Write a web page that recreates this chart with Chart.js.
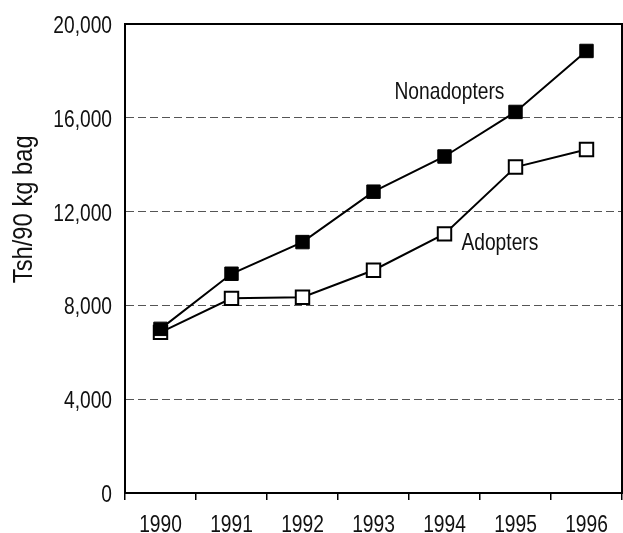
<!DOCTYPE html>
<html>
<head>
<meta charset="utf-8">
<script src="https://cdn.jsdelivr.net/npm/chart.js@4"></script>
<style>
  html, body { margin: 0; padding: 0; background: #fff; }
  #wrap { width: 623px; height: 533px; }
</style>
</head>
<body>
<div id="wrap"><canvas id="chart"></canvas></div>
<script>
const years = ['1990', '1991', '1992', '1993', '1994', '1995', '1996'];
const nonadopters = [7000, 9350, 10700, 12850, 14350, 16250, 18850];
const adopters = [6850, 8300, 8350, 9500, 11050, 13900, 14650];
const yTicks = [0, 4000, 8000, 12000, 16000, 20000];

const FONT = "'Liberation Sans', Arial, sans-serif";
// no narrow face installed, so text is squeezed horizontally to look condensed
const SQUEEZE = 0.8;

// series names written next to the lines, placed in data units
const seriesLabels = [
  { text: 'Nonadopters', x: 4.07, y: 17100 },
  { text: 'Adopters', x: 4.78, y: 10650 },
];

function narrowText(ctx, text, x, y, align, sx) {
  ctx.save();
  ctx.translate(x, y);
  ctx.scale(sx, 1);
  ctx.textAlign = align;
  ctx.fillText(text, 0, 0);
  ctx.restore();
}

const framePlugin = {
  id: 'frame',
  afterDraw(chart) {
    const ctx = chart.ctx;
    const a = chart.chartArea;
    const xs = chart.scales.x;
    const ys = chart.scales.y;
    ctx.save();
    ctx.strokeStyle = '#000';
    ctx.lineWidth = 2;
    ctx.strokeRect(a.left, a.top, a.right - a.left, a.bottom - a.top);

    ctx.fillStyle = '#111';
    ctx.font = '24px ' + FONT;
    ctx.textBaseline = 'alphabetic';

    // y tick labels
    ys.ticks.forEach((t) => {
      const py = ys.getPixelForValue(t.value);
      narrowText(ctx, t.value.toLocaleString('en-US'), a.left - 13, py + 9, 'right', SQUEEZE);
    });

    // x tick labels
    years.forEach((yr, i) => {
      narrowText(ctx, yr, xs.getPixelForValue(i), a.bottom + 39, 'center', SQUEEZE);
    });

    // series names
    ctx.textBaseline = 'middle';
    seriesLabels.forEach((l) => {
      narrowText(ctx, l.text, xs.getPixelForValue(l.x), ys.getPixelForValue(l.y), 'center', SQUEEZE);
    });

    // axis title
    ctx.translate(25, ys.getPixelForValue(12100));
    ctx.rotate(-Math.PI / 2);
    ctx.font = '27px ' + FONT;
    narrowText(ctx, 'Tsh/90 kg bag', 0, 0, 'center', 0.88);
    ctx.restore();
  },
};

new Chart(document.getElementById('chart'), {
  type: 'line',
  data: {
    labels: years,
    datasets: [
      {
        label: 'Nonadopters',
        data: nonadopters,
        borderColor: '#000',
        borderWidth: 2,
        backgroundColor: '#000',
        pointStyle: 'rect',
        pointRadius: 9.5,
        pointBorderColor: '#000',
        pointBackgroundColor: '#000',
        pointBorderWidth: 1,
        tension: 0,
      },
      {
        label: 'Adopters',
        data: adopters,
        borderColor: '#000',
        borderWidth: 2,
        backgroundColor: '#fff',
        pointStyle: 'rect',
        pointRadius: 9.5,
        pointBorderColor: '#000',
        pointBackgroundColor: '#fff',
        pointBorderWidth: 2,
        tension: 0,
      },
    ],
  },
  options: {
    responsive: true,
    maintainAspectRatio: false,
    animation: false,
    layout: { autoPadding: false, padding: { top: 24, right: 1, left: 0, bottom: 0 } },
    plugins: {
      legend: { display: false },
      tooltip: { enabled: false },
    },
    scales: {
      x: {
        offset: true,
        grid: {
          offset: true,
          drawOnChartArea: false,
          drawTicks: true,
          tickLength: 7,
          color: '#000',
          lineWidth: 1.5,
        },
        border: { display: true, color: '#000', width: 2 },
        ticks: { display: false, autoSkip: false },
        afterFit(scale) {
          scale.height = 40;
        },
      },
      y: {
        min: 0,
        max: 20000,
        afterBuildTicks(scale) {
          scale.ticks = yTicks.map((v) => ({ value: v }));
        },
        grid: {
          drawTicks: false,
          color: (c) => (c.tick && (c.tick.value === 0 || c.tick.value === 20000) ? 'rgba(0,0,0,0)' : '#555'),
          lineWidth: 1,
        },
        border: { display: true, color: '#000', width: 2, dash: [8, 4] },
        ticks: { display: false },
        afterFit(scale) {
          scale.width = 125;
        },
      },
    },
  },
  plugins: [framePlugin],
});
</script>
</body>
</html>
